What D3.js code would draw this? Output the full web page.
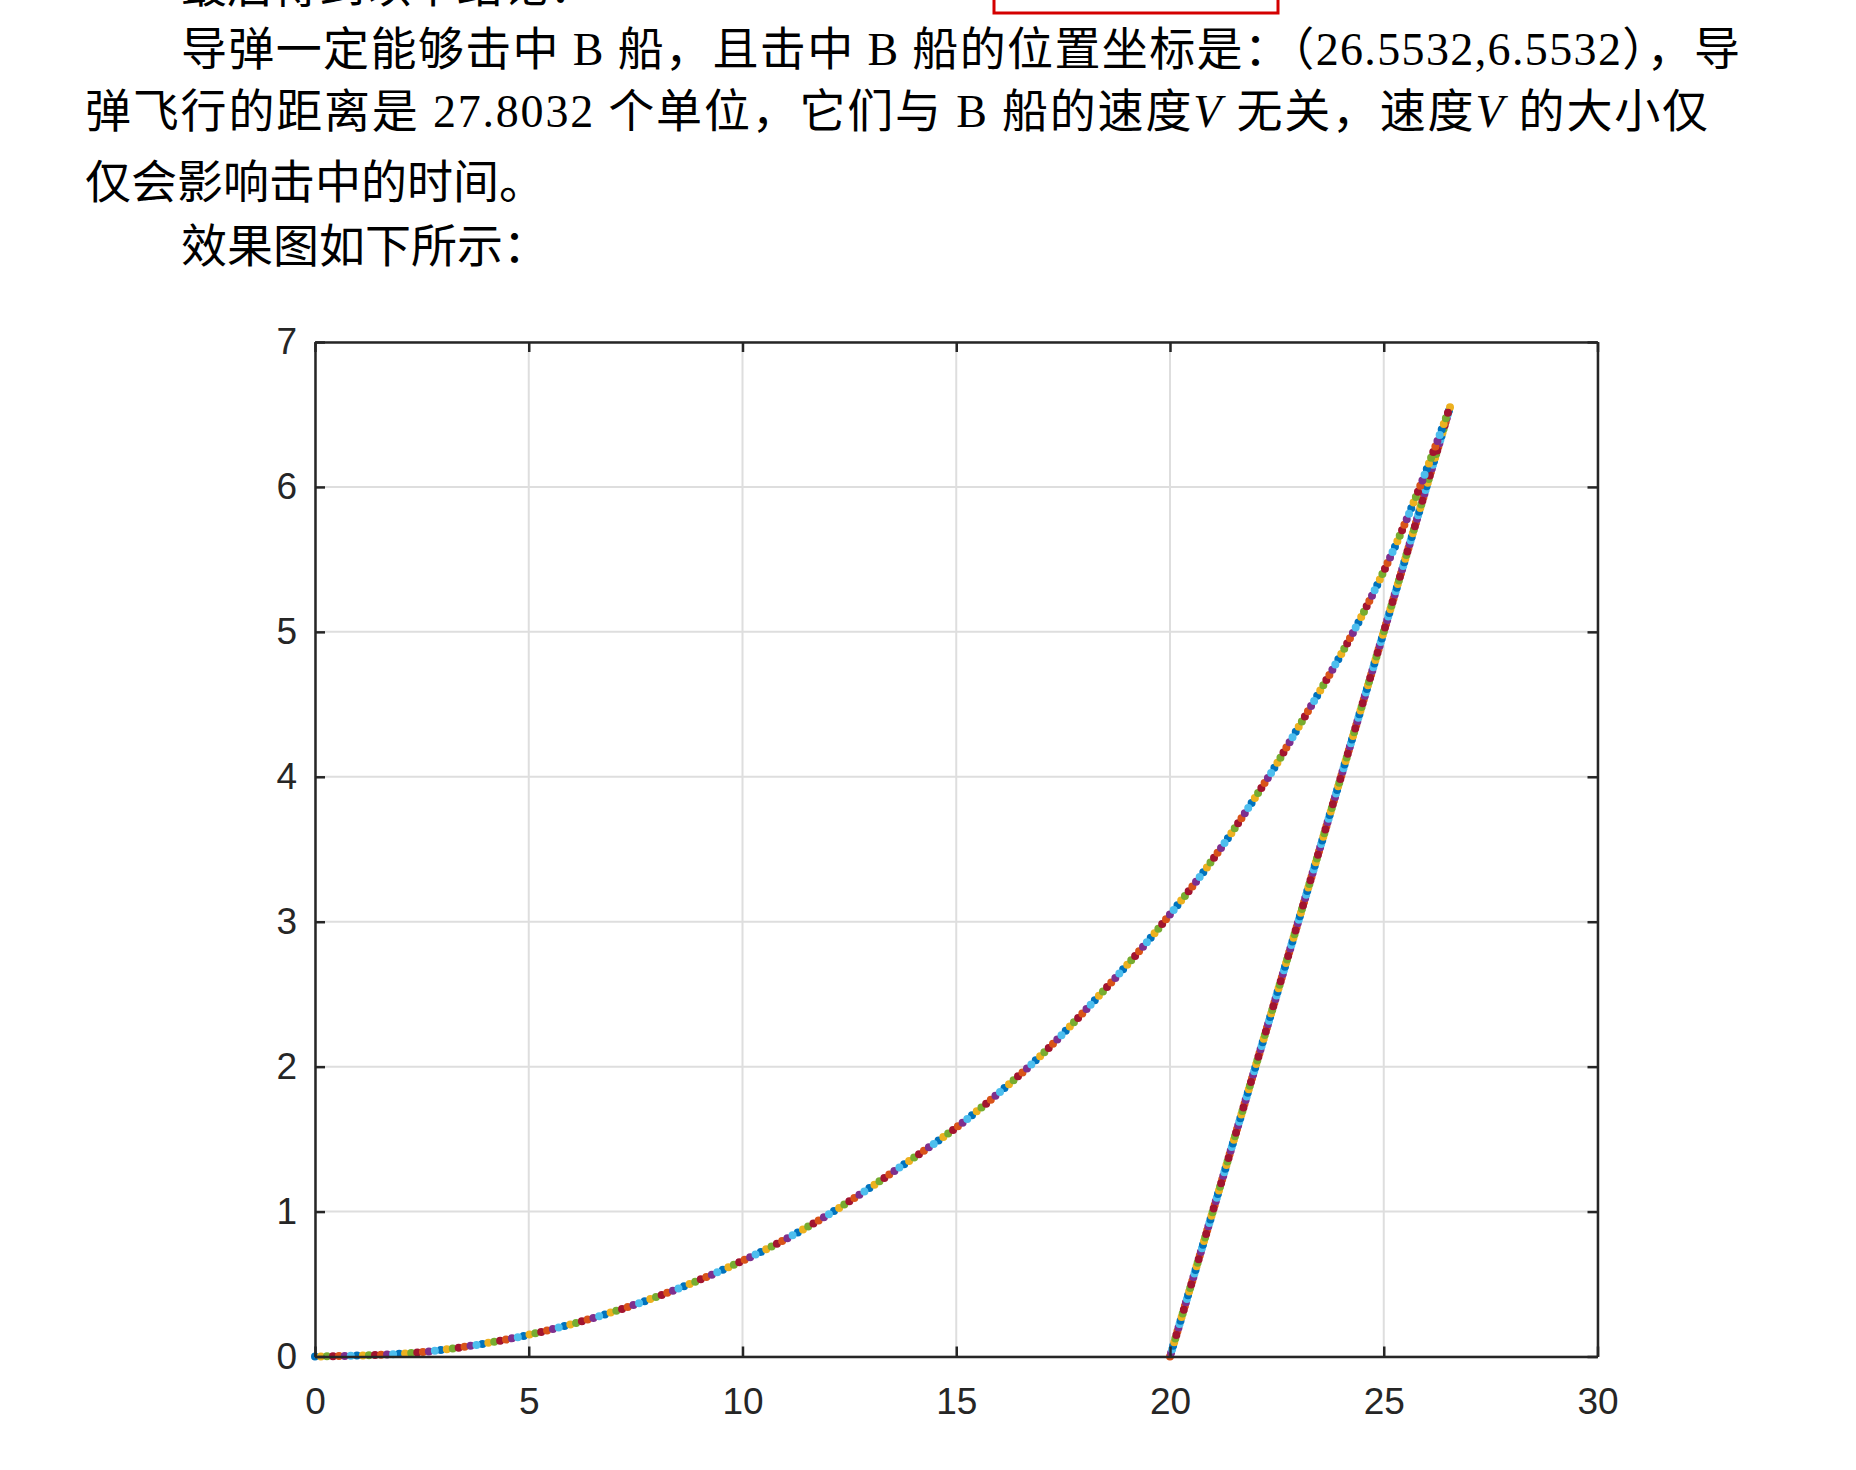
<!DOCTYPE html>
<html>
<head>
<meta charset="utf-8">
<script src="https://cdn.jsdelivr.net/npm/d3@7"></script>
<style>
body { margin: 0; background: #fff; }
.para { font-family: "Liberation Serif", "Noto Sans CJK SC", serif; font-size: 46px; fill: #000; }
.axis text { font-family: "Liberation Sans", Arial, sans-serif; font-size: 37px; fill: #262626; }
.axis path, .axis line { stroke: #262626; stroke-width: 2.5; }
</style>
</head>
<body>
<div id="chart"></div>
<script>

// missile track
const missileX = [0, 2.5, 5, 7.5, 10, 11.9, 13.85, 15, 16.2, 17.2, 18.9, 20, 21.1, 22.35, 22.8, 24.2, 25.05, 25.75, 26.55];
const missileY = [0, 0.03, 0.15, 0.36, 0.66, 0.96, 1.34, 1.58, 1.87, 2.14, 2.67, 3.05, 3.47, 4.02, 4.24, 4.95, 5.45, 5.93, 6.55];

// ship B track
const shipX = [20, 22, 24, 26.55];
const shipY = [0, 2, 4, 6.55];

const xTicks = [0, 5, 10, 15, 20, 25, 30];
const yTicks = [0, 1, 2, 3, 4, 5, 6, 7];

// matlab default colour order, dots cycle through it
const colorOrder = ["#0072BD", "#D95319", "#EDB120", "#7E2F8E", "#77AC30", "#4DBEEE", "#A2142F"];
const missileColors = [0, 2, 4, 6, 1, 3, 5];
const shipColors = [1, 3, 5, 0, 2, 4, 6];

const W = 1856, H = 1470;

let svg = d3.select("#chart").append("svg")
    .attr("width", W)
    .attr("height", H);

svg.append("rect").attr("width", W).attr("height", H).attr("fill", "#fff");

// ---- text above the figure ----
svg.append("text").attr("class", "para")
    .attr("x", 181).attr("y", 2)
    .text("最后得到以下结论：");

// red box cut off at the top
svg.append("rect")
    .attr("x", 994).attr("y", -60)
    .attr("width", 284).attr("height", 73)
    .attr("fill", "none")
    .attr("stroke", "#d40000")
    .attr("stroke-width", 3);

svg.append("text").attr("class", "para")
    .attr("x", 181).attr("y", 65)
    .attr("textLength", 1559).attr("lengthAdjust", "spacing")
    .text("导弹一定能够击中 B 船，且击中 B 船的位置坐标是：（26.5532,6.5532），导");

let line2 = svg.append("text").attr("class", "para")
    .attr("x", 85).attr("y", 127)
    .attr("textLength", 1623).attr("lengthAdjust", "spacing");
line2.append("tspan").text("弹飞行的距离是 27.8032 个单位，它们与 B 船的速度");
line2.append("tspan").attr("font-style", "italic").text("V");
line2.append("tspan").text(" 无关，速度");
line2.append("tspan").attr("font-style", "italic").text("V");
line2.append("tspan").text(" 的大小仅");

svg.append("text").attr("class", "para")
    .attr("x", 85).attr("y", 198)
    .text("仅会影响击中的时间。");

svg.append("text").attr("class", "para")
    .attr("x", 181).attr("y", 262)
    .text("效果图如下所示：");

// ---- plot ----
let x = d3.scaleLinear().domain([0, 30]).range([315, 1597.5]);
let y = d3.scaleLinear().domain([0, 7]).range([1356.5, 342]);

// grid
svg.append("g").selectAll("line").data(xTicks).enter().append("line")
    .attr("x1", d => x(d)).attr("x2", d => x(d))
    .attr("y1", y(0)).attr("y2", y(7))
    .attr("stroke", "#dedede").attr("stroke-width", 2);
svg.append("g").selectAll("line").data(yTicks).enter().append("line")
    .attr("x1", x(0)).attr("x2", x(30))
    .attr("y1", d => y(d)).attr("y2", d => y(d))
    .attr("stroke", "#dedede").attr("stroke-width", 2);

// dotted tracks
let lineGen = d3.line()
    .x(d => x(d[0]))
    .y(d => y(d[1]))
    .curve(d3.curveCatmullRom.alpha(0.5));

let missile = missileX.map((v, i) => [v, missileY[i]]);
let ship = shipX.map((v, i) => [v, shipY[i]]);

let plotG = svg.append("g");

// measure path lengths so both tracks get the same number of steps
let probe = plotG.append("path").attr("d", lineGen(missile));
let missileLen = probe.node().getTotalLength();
probe.attr("d", lineGen(ship));
let shipLen = probe.node().getTotalLength();
probe.remove();

let steps = Math.round(missileLen / 6);

function drawDots(data, len, order) {
    let gap = len / steps;
    order.forEach((c, k) => {
        plotG.append("path")
            .attr("d", lineGen(data))
            .attr("fill", "none")
            .attr("stroke", colorOrder[c])
            .attr("stroke-width", 8)
            .attr("stroke-linecap", "round")
            .attr("stroke-dasharray", "0 " + (gap * 7))
            .attr("stroke-dashoffset", -k * gap);
    });
}

drawDots(ship, shipLen, shipColors);
drawDots(missile, missileLen, missileColors);

// axes, ticks pointing inward like matlab
svg.append("g").attr("class", "axis")
    .attr("transform", "translate(0," + y(0) + ")")
    .call(d3.axisBottom(x).tickValues(xTicks).tickSizeInner(-10).tickSizeOuter(0).tickPadding(31).tickFormat(d3.format("d")));

svg.append("g").attr("class", "axis")
    .attr("transform", "translate(" + x(0) + ",0)")
    .call(d3.axisLeft(y).tickValues(yTicks).tickSizeInner(-10).tickSizeOuter(0).tickPadding(18).tickFormat(d3.format("d")));

svg.append("g").attr("class", "axis")
    .attr("transform", "translate(0," + y(7) + ")")
    .call(d3.axisTop(x).tickValues(xTicks).tickSizeInner(-10).tickSizeOuter(0).tickFormat(""));

svg.append("g").attr("class", "axis")
    .attr("transform", "translate(" + x(30) + ",0)")
    .call(d3.axisRight(y).tickValues(yTicks).tickSizeInner(-10).tickSizeOuter(0).tickFormat(""));

</script>
</body>
</html>
